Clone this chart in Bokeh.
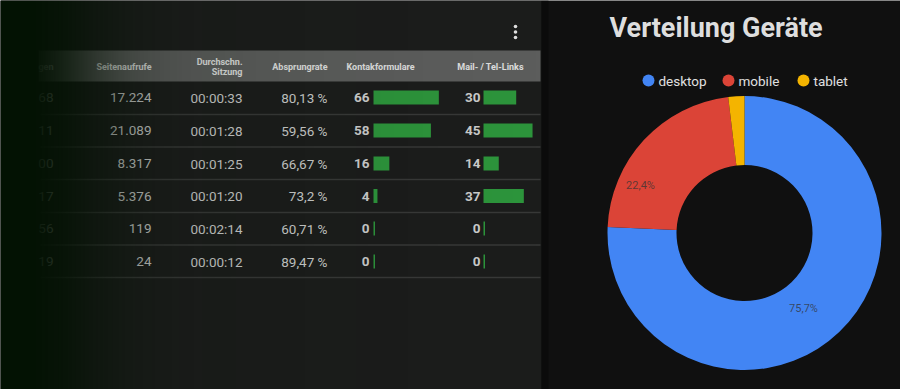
import math
import numpy as np
from bokeh.plotting import figure
from bokeh.models import Range1d, ColumnDataSource
from bokeh.core.properties import value
from bokeh.embed import file_html
from bokeh.resources import INLINE

# ---------------- data ----------------
header_labels = ["gen", "Seitenaufrufe", "Durchschn.", "Sitzung", "Absprungrate", "Kontakformulare", "Mail- / Tel-Links"]
sitzungen_visible = ["68", "11", "00", "17", "56", "19"]
seitenaufrufe = ["17.224", "21.089", "8.317", "5.376", "119", "24"]
dauer = ["00:00:33", "00:01:28", "00:01:25", "00:01:20", "00:02:14", "00:00:12"]
absprungrate = ["80,13 %", "59,56 %", "66,67 %", "73,2 %", "60,71 %", "89,47 %"]
kontaktformulare = [66, 58, 16, 4, 0, 0]
mail_tel_links = [30, 45, 14, 37, 0, 0]

donut_title = "Verteilung Geräte"
devices = ["desktop", "mobile", "tablet"]
device_share = [75.7, 22.4, 1.9]
device_colors = ["#4285f4", "#db4437", "#f4b400"]
device_labels = ["75,7%", "22,4%", ""]

H = 389
def Y(py):
    return H - py

FONT = value("Roboto")

p = figure(width=900, height=389, x_range=Range1d(0, 900), y_range=Range1d(0, H),
           output_backend="svg", toolbar_location=None, min_border=0)
p.axis.visible = False
p.grid.visible = False
p.outline_line_color = None
p.background_fill_color = "#101010"
p.border_fill_color = "#101010"

# ---------------- left panel background ----------------
p.quad(left=0, right=541, bottom=0, top=H, fill_color="#1d1d1d", line_color=None)
# shadow strip between panels
p.quad(left=541, right=548, bottom=0, top=H, fill_color="#0b0b0b", line_color=None)

# header band
p.quad(left=38, right=540, bottom=Y(81), top=Y(50), fill_color="#606060", line_color=None)

# row geometry
row_y = [97, 130, 163, 195.5, 228, 261]
sep_y = [114, 146.5, 179, 212, 244.5, 277]
for s in sep_y:
    p.segment(x0=40, y0=Y(s), x1=540, y1=Y(s), line_color="#3a3a3a", line_width=1.5)

# header text
hdr_color = "#e6e6e6"
hdr = dict(text_font=FONT, text_font_size="9px", text_font_style="bold",
           text_color=hdr_color, text_baseline="middle")
p.text(x=[53], y=[Y(66)], text=[header_labels[0]], text_align="right", **hdr)
p.text(x=[151], y=[Y(66)], text=[header_labels[1]], text_align="right", **hdr)
p.text(x=[242], y=[Y(61.5)], text=[header_labels[2]], text_align="right", **hdr)
p.text(x=[242], y=[Y(71)], text=[header_labels[3]], text_align="right", **hdr)
p.text(x=[327], y=[Y(66)], text=[header_labels[4]], text_align="right", **hdr)
p.text(x=[346], y=[Y(66)], text=[header_labels[5]], text_align="left", **hdr)
p.text(x=[490], y=[Y(66)], text=[header_labels[6]], text_align="center", **hdr)

# cell text
ys = [Y(v) for v in row_y]
cell = dict(text_font=FONT, text_font_size="13.5px", text_color="#d2d2d2", text_baseline="middle")
p.text(x=[53] * 6, y=ys, text=sitzungen_visible, text_align="right", **cell)
p.text(x=[151] * 6, y=ys, text=seitenaufrufe, text_align="right", **cell)
p.text(x=[242] * 6, y=ys, text=dauer, text_align="right", **cell)
p.text(x=[327] * 6, y=ys, text=absprungrate, text_align="right", **cell)
p.text(x=[369] * 6, y=ys, text=[str(v) for v in kontaktformulare], text_align="right",
       text_font_style="bold", **cell)
p.text(x=[480] * 6, y=ys, text=[str(v) for v in mail_tel_links], text_align="right",
       text_font_style="bold", **cell)

# bars
bar_green = "#2f9a3e"
k_scale = 0.99
m_scale = 1.09
k_src = ColumnDataSource(dict(left=[373] * 6,
                              right=[373 + max(v * k_scale, 1.5) for v in kontaktformulare],
                              top=[y + 7 for y in ys], bottom=[y - 7 for y in ys]))
m_src = ColumnDataSource(dict(left=[483] * 6,
                              right=[483 + max(v * m_scale, 1.5) for v in mail_tel_links],
                              top=[y + 7 for y in ys], bottom=[y - 7 for y in ys]))
p.quad(left="left", right="right", top="top", bottom="bottom", source=k_src,
       fill_color=bar_green, line_color=None)
p.quad(left="left", right="right", top="top", bottom="bottom", source=m_src,
       fill_color=bar_green, line_color=None)

# left fade overlay (dark green), drawn as one RGBA image strip
W = 541
img = np.zeros((1, W), dtype=np.uint32)
view = img.view(dtype=np.uint8).reshape((1, W, 4))
for i in range(W):
    a = min(1.0, 0.8 / (1 + math.exp((i - 80) / 28.0)) + 0.35 * math.exp(-i / 250.0))
    view[0, i, 0] = 3
    view[0, i, 1] = 18
    view[0, i, 2] = 3
    view[0, i, 3] = int(round(255 * a))
p.image_rgba(image=[img], x=0, y=0, dw=W, dh=H)

# three dot menu
p.scatter(x=[515, 515, 515], y=[Y(26), Y(31.5), Y(37)], size=3.6, marker="circle",
          fill_color="#dddddd", line_color=None)

# ---------------- right panel: donut ----------------
p.text(x=[609], y=[Y(27)], text=[donut_title], text_font=FONT, text_font_size="27px",
       text_font_style="bold", text_color="#dedede", text_baseline="middle", text_align="left")

# legend
leg_x = [648, 728, 803]
p.scatter(x=leg_x, y=[Y(80)] * 3, size=12, marker="circle", fill_color=device_colors, line_color=None)
p.text(x=[x + 10 for x in leg_x], y=[Y(80)] * 3, text=devices, text_font=FONT,
       text_font_size="13.5px", text_color="#e0e0e0", text_baseline="middle", text_align="left")

cx, cy = 744, Y(232.5)
total = sum(device_share)
cum = np.cumsum([0] + device_share) / total
starts = [math.pi / 2 - 2 * math.pi * c for c in cum[:-1]]
ends = [math.pi / 2 - 2 * math.pi * c for c in cum[1:]]
p.annular_wedge(x=cx, y=cy, inner_radius=68, outer_radius=137,
                start_angle=starts, end_angle=ends, direction="clock",
                fill_color=device_colors, line_color=None)

# slice labels
label_pos = [(803, Y(308)), (640, Y(185))]
p.text(x=[label_pos[0][0], label_pos[1][0]], y=[label_pos[0][1], label_pos[1][1]],
       text=[device_labels[0], device_labels[1]], text_font=FONT, text_font_size="11px",
       text_color="#333333", text_alpha=0.75, text_baseline="middle", text_align="center")

open("out.html", "w").write(file_html(p, INLINE))
